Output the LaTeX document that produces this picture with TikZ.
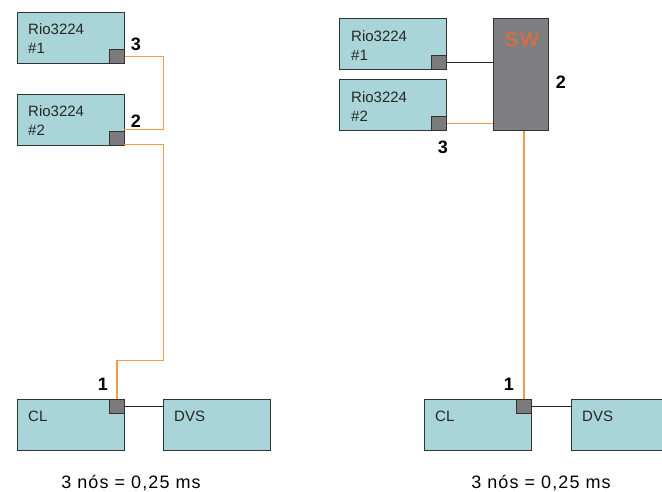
\documentclass[tikz,border=0pt]{standalone}
\usepackage{fontspec}
\setmainfont{Liberation Sans}
\usetikzlibrary{positioning,calc}
\definecolor{unitfill}{HTML}{A9D5D8}
\definecolor{unitline}{HTML}{333333}
\definecolor{portfill}{HTML}{7B7B7D}
\definecolor{swfill}{HTML}{7F7F81}
\definecolor{fiberclr}{HTML}{F59A4C}
\definecolor{swtext}{HTML}{F0692E}

\begin{document}
\begin{tikzpicture}[x=1pt,y=-1pt,
  unit/.style={draw=unitline, fill=unitfill, line width=1.2pt, minimum width=107pt, minimum height=51pt, inner sep=0pt, anchor=north west},
  port/.style={draw=unitline, fill=portfill, line width=1pt, minimum width=15pt, minimum height=14pt, inner sep=0pt, anchor=south east},
  utext/.style={anchor=base west, inner sep=0pt, align=left, font=\fontsize{15}{19}\selectfont, text=black!85},
  fiber/.style={draw=fiberclr, line width=1.5pt},
  cat/.style={draw=black!85, line width=1.2pt},
  num/.style={font=\fontsize{18}{20}\selectfont\bfseries, inner sep=0pt},
  captxt/.style={font=\fontsize{18}{20}\selectfont\addfontfeatures{LetterSpace=6}, inner sep=0pt}]
  \useasboundingbox (0,0) rectangle (662,491);
  \clip (0,0) rectangle (662,491);

  % Daisy chain
  \node[unit] (rioA) at (17,12) {};
  \node[unit] (rioB) at (17,94) {};
  \node[unit] (clA) at (17,399) {};
  \node[unit] (dvsA) at (163,399) {};
  \node[utext] at (28,53) {Rio3224\\\#1};
  \node[utext] at (28,135) {Rio3224\\\#2};
  \node[utext] at (28,421) {CL};
  \node[utext] at (174,421) {DVS};
  \node[port] (pA) at (rioA.south east) {};
  \node[port] (pB) at (rioB.south east) {};
  \node[port, anchor=north east] (pC) at (clA.north east) {};

  \coordinate (jB) at (124,129.5);
  \coordinate (jB2) at (124,144.5);
  \draw[fiber] (pA.east) -| (163.5,129.5) -- (jB);
  \draw[fiber] (jB2) -- (163.5,144.5) -- (163.5,360.5) -| (pC.north);
  \draw[cat] (pC.east) -- (dvsA.west |- pC.east);

  \node[num] at (136,44) {3};
  \node[num] at (136,121) {2};
  \node[num] at (103,384) {1};

  % Star with switch
  \node[unit] (rioC) at (339,18) {};
  \node[unit] (rioD) at (339,79) {};
  \node[draw=unitline, fill=swfill, line width=1.2pt, minimum width=55pt, minimum height=112pt, inner sep=0pt, anchor=north west] (sw) at (493,18) {};
  \node[text=swtext, font=\fontsize{20}{22}\selectfont\addfontfeatures{LetterSpace=10}, inner sep=0pt] (swlabel) at (522,40) {SW};
  \node[unit] (clB) at (424,399) {};
  \node[unit] (dvsB) at (571,399) {};
  \node[utext] at (351,60) {Rio3224\\\#1};
  \node[utext] at (351,121) {Rio3224\\\#2};
  \node[utext] at (435,421) {CL};
  \node[utext] at (582,421) {DVS};
  \node[port] (pD) at (rioC.south east) {};
  \node[port] (pE) at (rioD.south east) {};
  \node[port, anchor=north east] (pF) at (clB.north east) {};

  \draw[cat] (pD.east) -- (sw.west |- pD.east);
  \draw[fiber] (pE.east) -- (sw.west |- pE.east);
  \draw[fiber] (pF.north |- sw.south) -- (pF.north);
  \draw[cat] (pF.east) -- (dvsB.west |- pF.east);

  \node[num] at (443,147) {3};
  \node[num] at (561,82) {2};
  \node[num] at (509,384) {1};

  % Captions
  \node[captxt] (capA) at (131,483) {3 nós = 0,25 ms};
  \node[captxt] (capB) at (541,483) {3 nós = 0,25 ms};
\end{tikzpicture}
\end{document}
